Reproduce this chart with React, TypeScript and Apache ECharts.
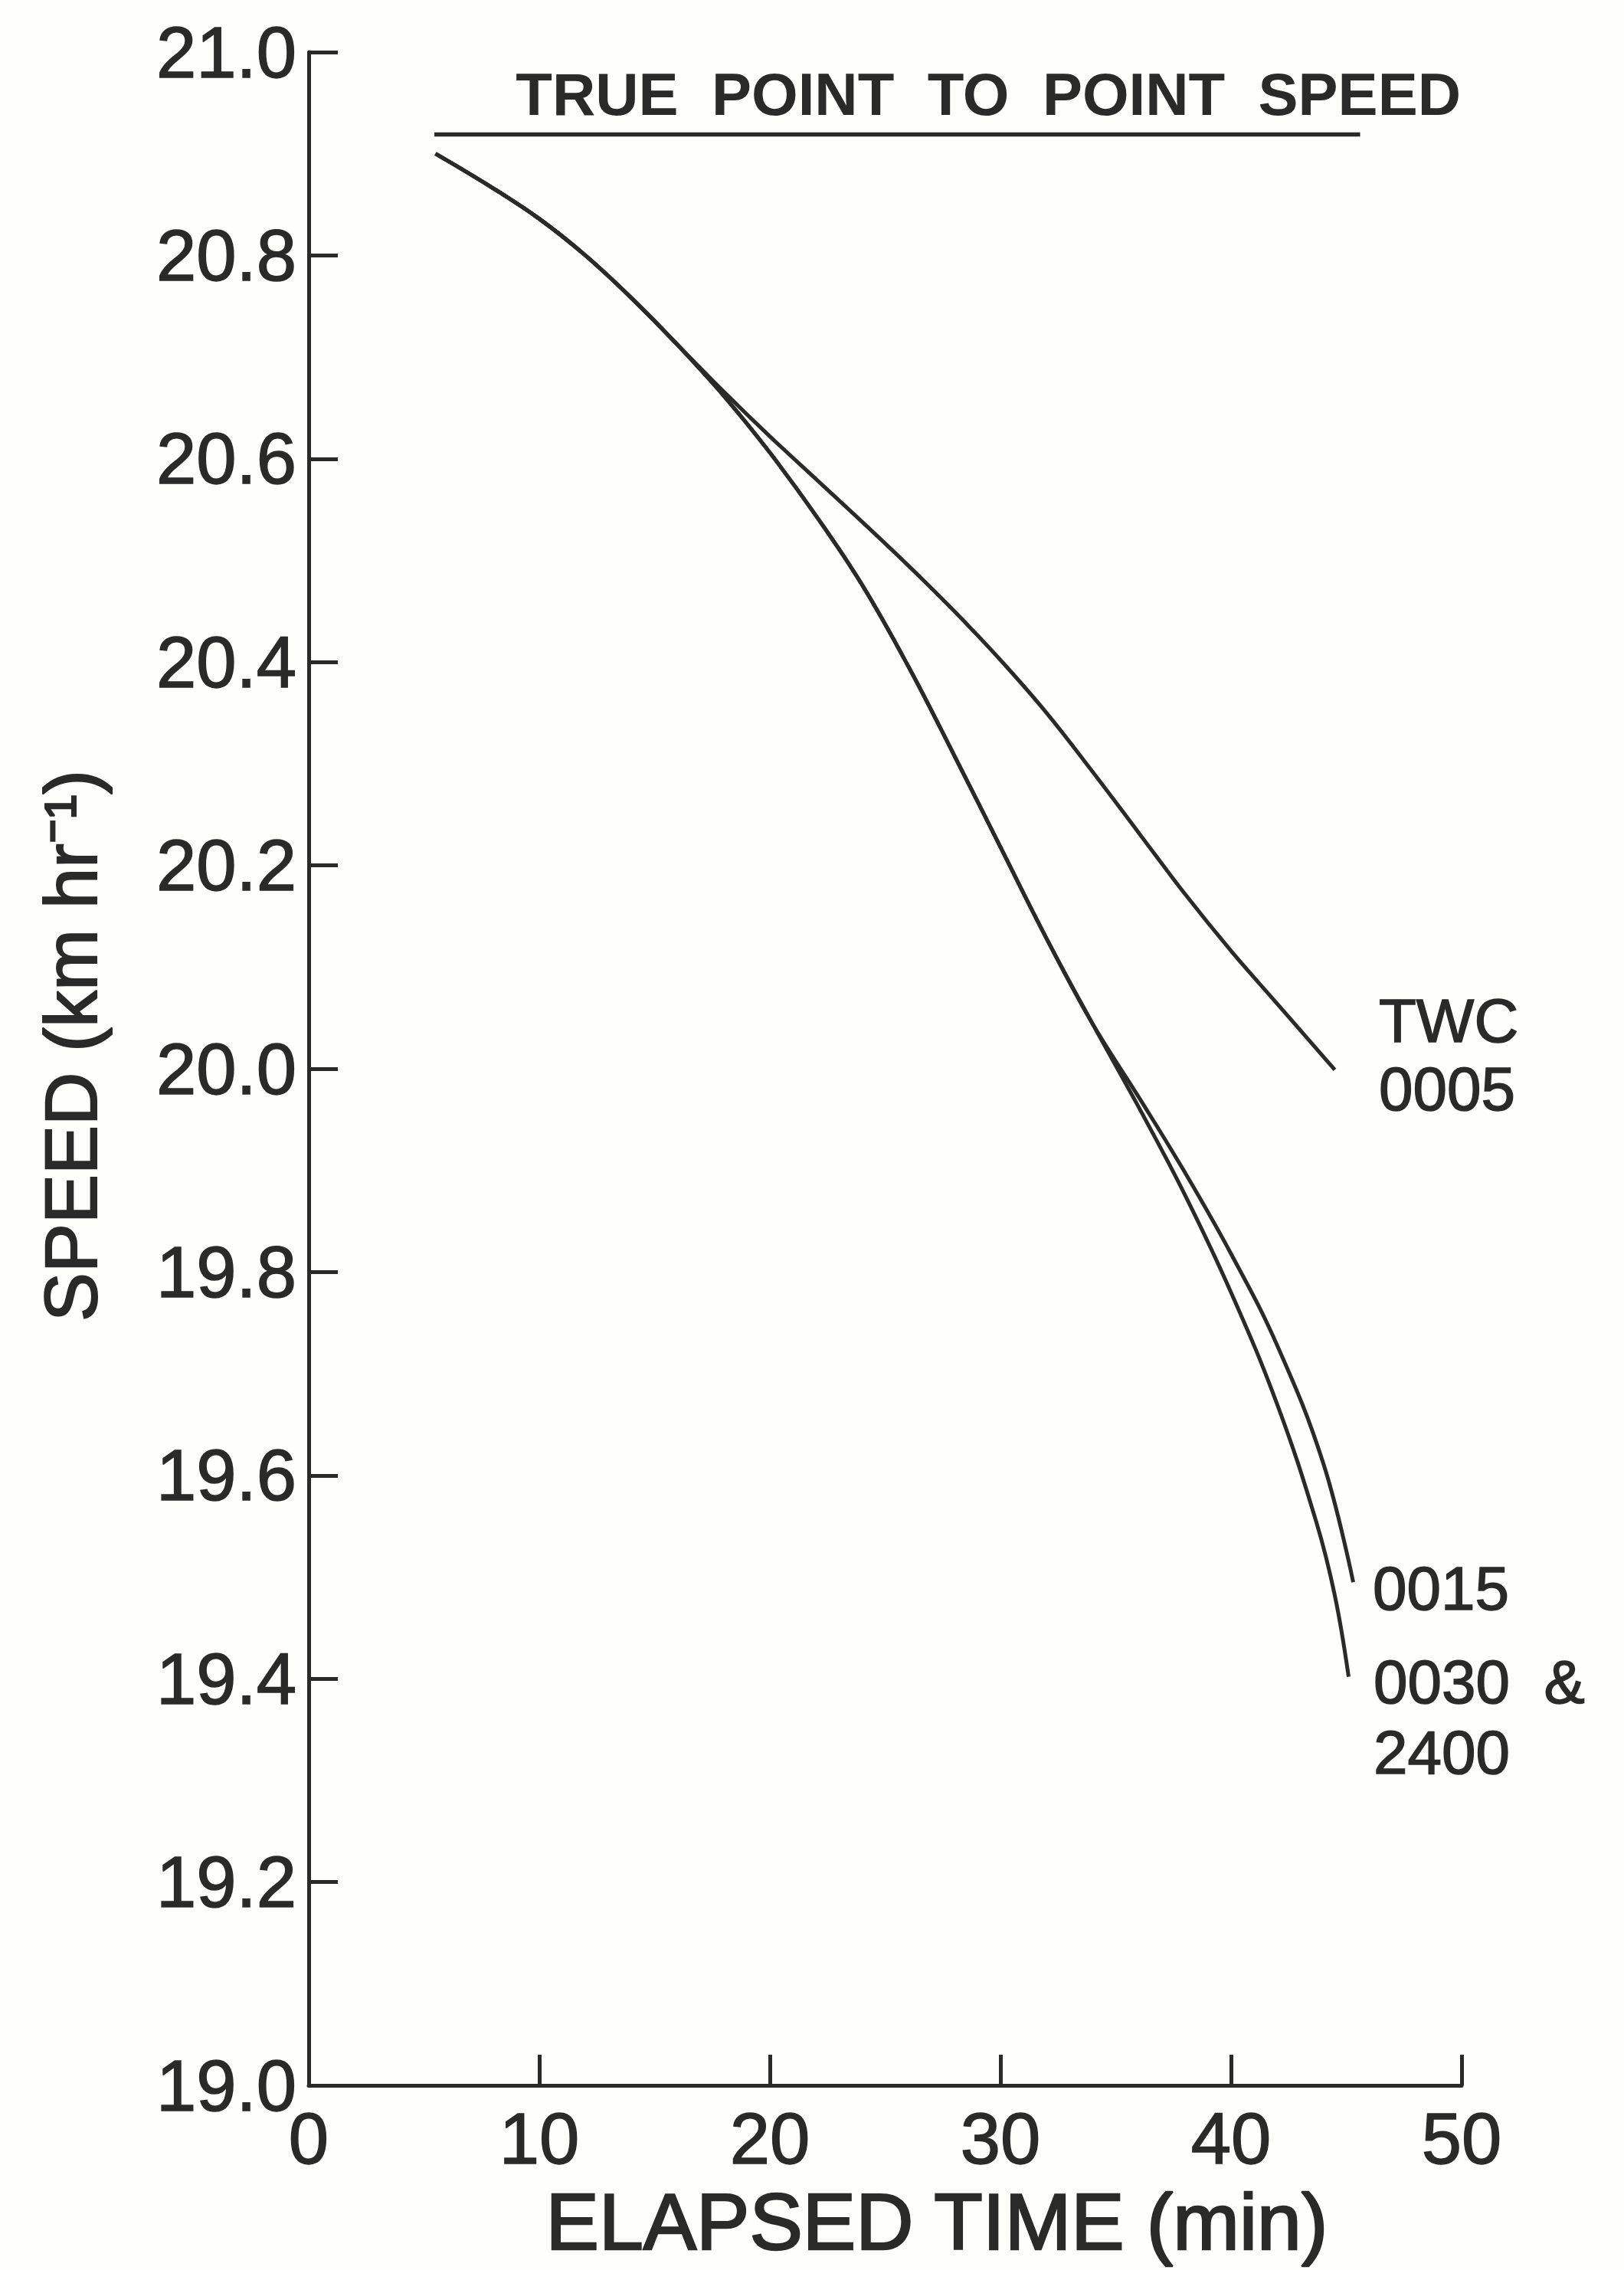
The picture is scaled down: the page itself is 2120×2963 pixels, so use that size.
import React, { useEffect, useRef } from "react";
import * as echarts from "echarts";

// ---- data ----
const timeTWC = [5.5, 8, 10, 12, 14, 16, 18, 20, 22, 24, 26, 28, 30, 32, 34, 36, 38, 40, 42, 44.5];
const speedTWC = [20.9, 20.866, 20.836, 20.8, 20.758, 20.712, 20.666, 20.622, 20.58, 20.538, 20.495, 20.45, 20.402, 20.35, 20.292, 20.232, 20.172, 20.116, 20.064, 19.999];

const time0015 = [5.5, 8, 10, 12, 14, 16, 18, 20, 22, 24, 26, 28, 30, 32, 34, 36, 38, 40, 42, 44, 45.3];
const speed0015 = [20.9, 20.866, 20.836, 20.8, 20.758, 20.712, 20.662, 20.606, 20.544, 20.476, 20.396, 20.308, 20.218, 20.128, 20.044, 19.972, 19.898, 19.818, 19.728, 19.612, 19.495];

const time0030 = [5.5, 8, 10, 12, 14, 16, 18, 20, 22, 24, 26, 28, 30, 32, 34, 36, 38, 40, 42, 43.7, 44.5, 45.1];
const speed0030 = [20.9, 20.866, 20.836, 20.8, 20.758, 20.712, 20.662, 20.606, 20.544, 20.476, 20.396, 20.308, 20.218, 20.128, 20.044, 19.962, 19.876, 19.78, 19.67, 19.554, 19.482, 19.402];

const trueSpeedTime = [5.45, 45.6];
const trueSpeedValue = [20.919, 20.919];

const xMin = 0, xMax = 50, xStep = 10;
const yMin = 19, yMax = 21, yStep = 0.2;

const titleText = "TRUE  POINT  TO  POINT  SPEED";
const xName = "ELAPSED TIME (min)";
const yName = "SPEED (km hr⁻¹)";
const curveLabels = ["TWC", "0005", "0015", "0030  &", "2400"];

const ink = "#2a2a28";
const font = "'Liberation Sans', Arial, sans-serif";

const zip = (xs: number[], ys: number[]) => xs.map((x, i) => [x, ys[i]]);

export default function App() {
  const ref = useRef<HTMLDivElement>(null);
  useEffect(() => {
    document.body.style.margin = "0";
    document.body.style.overflow = "hidden";
    const chart = echarts.init(ref.current!, null, { renderer: "svg" });
    const lineStyle = { color: ink, width: 5 };
    const series: any[] = [
      { name: "TWC 0005", data: zip(timeTWC, speedTWC) },
      { name: "0015", data: zip(time0015, speed0015) },
      { name: "0030 & 2400", data: zip(time0030, speed0030) },
    ].map((s) => ({
      type: "line",
      name: s.name,
      data: s.data,
      smooth: 0.4,
      showSymbol: false,
      lineStyle,
      silent: true,
    }));
    series.push({
      type: "line",
      name: "True point to point speed",
      data: zip(trueSpeedTime, trueSpeedValue),
      showSymbol: false,
      lineStyle: { color: ink, width: 5.5 },
      silent: true,
    });

    const heavy = { textBorderColor: ink, textBorderWidth: 1.5 };
    const labelStyle = { fontFamily: font, fontSize: 80, fill: ink, align: "left", verticalAlign: "middle", stroke: ink, lineWidth: 1.5 };
    chart.setOption({
      animation: false,
      backgroundColor: "#fefefb",
      grid: { left: 403, right: 212, top: 68, bottom: 241, containLabel: false },
      xAxis: {
        type: "value",
        min: xMin,
        max: xMax,
        interval: xStep,
        axisLine: { lineStyle: { color: ink, width: 5 } },
        axisTick: { inside: true, length: 40, lineStyle: { color: ink, width: 5 } },
        axisLabel: { color: ink, fontSize: 94, fontFamily: font, margin: 22, ...heavy },
        splitLine: { show: false },
      },
      yAxis: {
        type: "value",
        min: yMin,
        max: yMax,
        interval: yStep,
        axisLine: { show: true, lineStyle: { color: ink, width: 5 } },
        axisTick: { show: true, inside: true, length: 38, lineStyle: { color: ink, width: 5 } },
        axisLabel: {
          color: ink,
          fontSize: 94,
          fontFamily: font,
          margin: 16,
          ...heavy,
          formatter: (v: number) => v.toFixed(1),
        },
        splitLine: { show: false },
      },
      series,
      graphic: [
        {
          type: "text",
          x: 1907,
          y: 123,
          style: { text: titleText, fontFamily: font, fontWeight: "bold", fontSize: 78, fill: ink, align: "right", verticalAlign: "middle" },
        },
        {
          type: "text",
          x: 1223,
          y: 2900,
          style: { text: xName, fontFamily: font, fontSize: 104, fill: ink, align: "center", verticalAlign: "middle", stroke: ink, lineWidth: 2.5 },
        },
        {
          type: "text",
          x: 92,
          y: 1365,
          rotation: Math.PI / 2,
          style: { text: yName, fontFamily: font, fontSize: 96, fill: ink, align: "center", verticalAlign: "middle", stroke: ink, lineWidth: 2 },
        },
        { type: "text", x: 1800, y: 1332, style: { ...labelStyle, text: curveLabels[0] } },
        { type: "text", x: 1800, y: 1421, style: { ...labelStyle, text: curveLabels[1] } },
        { type: "text", x: 1792, y: 2073, style: { ...labelStyle, text: curveLabels[2] } },
        { type: "text", x: 1793, y: 2195, style: { ...labelStyle, text: curveLabels[3] } },
        { type: "text", x: 1793, y: 2287, style: { ...labelStyle, text: curveLabels[4] } },
      ],
    });
    return () => chart.dispose();
  }, []);
  return <div ref={ref} style={{ width: 2120, height: 2963 }} />;
}
